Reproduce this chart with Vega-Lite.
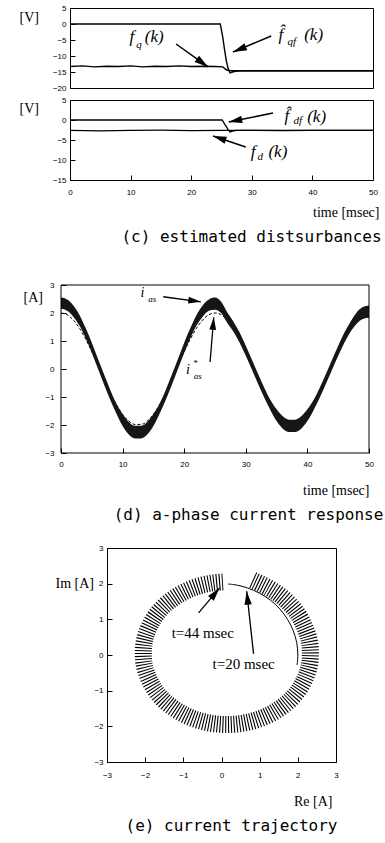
{
"$schema": "https://vega.github.io/schema/vega-lite/v6.json",
"background": "white",
"padding": {"left": 18, "top": 3, "right": 0, "bottom": 0},
"bounds": "flush",
"center": true,
"spacing": 12,
"config": {
  "view": {"stroke": "black", "strokeWidth": 1},
  "axis": {"grid": false, "domain": false, "tickColor": "black", "tickSize": -5, "tickWidth": 1, "labelFont": "Liberation Sans", "labelFontSize": 8, "labelColor": "black", "labelPadding": 9, "labelFlush": false, "titleFont": "Liberation Serif", "titleFontSize": 14, "titleFontWeight": "normal", "titleColor": "black", "titleAngle": 0, "titleBaseline": "middle"},
  "title": {"font": "DejaVu Sans Mono", "fontSize": 16, "fontWeight": "normal", "color": "black", "orient": "bottom", "frame": "group", "anchor": "middle", "offset": 10}
},
"vconcat": [
{
  "width": 303, "height": 80,
  "encoding": {
    "x": {"field": "x", "type": "quantitative", "scale": {"domain": [0, 50], "nice": false}, "axis": null},
    "y": {"field": "y", "type": "quantitative", "scale": {"domain": [-20, 5], "nice": false}, "axis": {"values": [-20, -15, -10, -5, 0, 5], "title": "[V]", "titleAlign": "left", "titleX": -51, "titleY": 9}}
  },
  "layer": [
    {"data": {"values": [
      {"s": "fq", "x": 0, "y": -13.3}, {"s": "fq", "x": 2, "y": -13.1}, {"s": "fq", "x": 4, "y": -13.4}, {"s": "fq", "x": 6, "y": -13.2}, {"s": "fq", "x": 8, "y": -13.3}, {"s": "fq", "x": 10, "y": -13.1}, {"s": "fq", "x": 12, "y": -13.4}, {"s": "fq", "x": 14, "y": -13.2}, {"s": "fq", "x": 16, "y": -13.3}, {"s": "fq", "x": 18, "y": -13.1}, {"s": "fq", "x": 20, "y": -13.3}, {"s": "fq", "x": 22, "y": -13.2}, {"s": "fq", "x": 24, "y": -13.3}, {"s": "fq", "x": 25.2, "y": -13.4}, {"s": "fq", "x": 25.8, "y": -14.3}, {"s": "fq", "x": 26.4, "y": -14.6}, {"s": "fq", "x": 35, "y": -14.6}, {"s": "fq", "x": 50, "y": -14.6},
      {"s": "fqf", "x": 0, "y": 0}, {"s": "fqf", "x": 24.8, "y": 0}, {"s": "fqf", "x": 25.2, "y": -4}, {"s": "fqf", "x": 25.5, "y": -8}, {"s": "fqf", "x": 25.8, "y": -11.5}, {"s": "fqf", "x": 26.1, "y": -14}, {"s": "fqf", "x": 26.4, "y": -15.3}, {"s": "fqf", "x": 26.8, "y": -15.0}, {"s": "fqf", "x": 27.5, "y": -14.7}, {"s": "fqf", "x": 28.5, "y": -14.6}, {"s": "fqf", "x": 50, "y": -14.6}
    ]},
     "mark": {"type": "line", "color": "black", "strokeWidth": 1.4},
     "encoding": {"detail": {"field": "s", "type": "nominal"}}},
    {"data": {"values": [{"x": 17.5, "y": -6.25, "x2": 22.8, "y2": -13.4}, {"x": 33.2, "y": -3.75, "x2": 26.9, "y2": -8.75}]},
     "mark": {"type": "rule", "color": "black", "strokeWidth": 1.5},
     "encoding": {"x2": {"field": "x2"}, "y2": {"field": "y2"}}},
    {"data": {"values": [{"x": 22.8, "y": -13.4}]},
     "mark": {"type": "point", "shape": "M0,0L0.6,2.2L-0.6,2.2Z", "filled": true, "color": "black", "opacity": 1, "size": 160, "angle": 125.5}},
    {"data": {"values": [{"x": 26.9, "y": -8.75}]},
     "mark": {"type": "point", "shape": "M0,0L0.6,2.2L-0.6,2.2Z", "filled": true, "color": "black", "opacity": 1, "size": 160, "angle": -112.7}},
    {"data": {"values": [{"x": 10.2, "y": -4.1, "t": "f"}, {"x": 13.9, "y": -4.1, "t": "(k)"}, {"x": 34.8, "y": -3.4, "t": "f\u0302"}, {"x": 40.2, "y": -3.4, "t": "(k)"}]},
     "mark": {"type": "text", "font": "Liberation Serif", "fontStyle": "italic", "fontSize": 17, "baseline": "middle", "color": "black"},
     "encoding": {"text": {"field": "t"}}},
    {"data": {"values": [{"x": 11.4, "y": -6.6, "t": "q"}, {"x": 36.6, "y": -5.6, "t": "qf"}]},
     "mark": {"type": "text", "font": "Liberation Serif", "fontStyle": "italic", "fontSize": 11, "baseline": "middle", "color": "black"},
     "encoding": {"text": {"field": "t"}}}
  ]
},
{
  "width": 303, "height": 80,
  "title": {"text": "(c) estimated distsurbances", "dx": 30},
  "encoding": {
    "x": {"field": "x", "type": "quantitative", "scale": {"domain": [0, 50], "nice": false}, "axis": {"values": [0, 10, 20, 30, 40, 50], "labelPadding": 13, "title": "time [msec]", "titleAlign": "right", "titleX": 309, "titleY": 32}},
    "y": {"field": "y", "type": "quantitative", "scale": {"domain": [-15, 5], "nice": false}, "axis": {"values": [-15, -10, -5, 0, 5], "title": "[V]", "titleAlign": "left", "titleX": -51, "titleY": 8}}
  },
  "layer": [
    {"data": {"values": [
      {"s": "fdf", "x": 0, "y": 0}, {"s": "fdf", "x": 25.1, "y": 0}, {"s": "fdf", "x": 25.6, "y": -1.2}, {"s": "fdf", "x": 26.1, "y": -2.4}, {"s": "fdf", "x": 26.4, "y": -3.0}, {"s": "fdf", "x": 26.8, "y": -2.8}, {"s": "fdf", "x": 27.5, "y": -2.6}, {"s": "fdf", "x": 50, "y": -2.6},
      {"s": "fd", "x": 0, "y": -2.6}, {"s": "fd", "x": 5, "y": -2.7}, {"s": "fd", "x": 10, "y": -2.6}, {"s": "fd", "x": 15, "y": -2.55}, {"s": "fd", "x": 20, "y": -2.65}, {"s": "fd", "x": 25, "y": -2.6}, {"s": "fd", "x": 30, "y": -2.6}, {"s": "fd", "x": 35, "y": -2.65}, {"s": "fd", "x": 40, "y": -2.6}, {"s": "fd", "x": 45, "y": -2.6}, {"s": "fd", "x": 50, "y": -2.6}
    ]},
     "mark": {"type": "line", "color": "black", "strokeWidth": 1.3},
     "encoding": {"detail": {"field": "s", "type": "nominal"}}},
    {"data": {"values": [{"x": 33.5, "y": 1.75, "x2": 26.2, "y2": -0.5}, {"x": 29.0, "y": -6.75, "x2": 23.6, "y2": -4.0}]},
     "mark": {"type": "rule", "color": "black", "strokeWidth": 1.5},
     "encoding": {"x2": {"field": "x2"}, "y2": {"field": "y2"}}},
    {"data": {"values": [{"x": 26.2, "y": -0.5}]},
     "mark": {"type": "point", "shape": "M0,0L0.6,2.2L-0.6,2.2Z", "filled": true, "color": "black", "opacity": 1, "size": 150, "angle": -101.5}},
    {"data": {"values": [{"x": 23.6, "y": -4.0}]},
     "mark": {"type": "point", "shape": "M0,0L0.6,2.2L-0.6,2.2Z", "filled": true, "color": "black", "opacity": 1, "size": 150, "angle": -71.4}},
    {"data": {"values": [{"x": 35.8, "y": 0.9, "t": "f\u0302"}, {"x": 40.7, "y": 0.75, "t": "(k)"}, {"x": 30.2, "y": -8.0, "t": "f"}, {"x": 34.3, "y": -8.0, "t": "(k)"}]},
     "mark": {"type": "text", "font": "Liberation Serif", "fontStyle": "italic", "fontSize": 17, "baseline": "middle", "color": "black"},
     "encoding": {"text": {"field": "t"}}},
    {"data": {"values": [{"x": 37.6, "y": -0.3, "t": "df"}, {"x": 31.4, "y": -9.2, "t": "d"}]},
     "mark": {"type": "text", "font": "Liberation Serif", "fontStyle": "italic", "fontSize": 11, "baseline": "middle", "color": "black"},
     "encoding": {"text": {"field": "t"}}}
  ]
},
{
  "width": 20, "height": 81, "view": {"stroke": null},
  "data": {"values": [{}]},
  "mark": {"type": "point", "opacity": 0}
},
{
  "width": 321, "height": 168, "view": {"stroke": null},
  "title": {"text": "(d) a-phase current response", "dx": 27},
  "encoding": {
    "x": {"field": "x", "type": "quantitative", "scale": {"domain": [0, 52.11], "nice": false}, "axis": {"values": [0, 10, 20, 30, 40, 50], "labelPadding": 12, "title": "time [msec]", "titleAlign": "right", "titleX": 308, "titleY": 37}},
    "y": {"field": "y", "type": "quantitative", "scale": {"domain": [-3, 3], "nice": false}, "axis": {"values": [-3, -2, -1, 0, 1, 2, 3], "title": "[A]", "titleAlign": "left", "titleX": -38, "titleY": 12, "labelPadding": 12}}
  },
  "layer": [
    {"data": {"values": [
      {"x": 0, "y": 2.00}, {"x": 1, "y": 1.94}, {"x": 2, "y": 1.75}, {"x": 3, "y": 1.46}, {"x": 4, "y": 1.07}, {"x": 5, "y": 0.62}, {"x": 6, "y": 0.13}, {"x": 7, "y": -0.37}, {"x": 8, "y": -0.85}, {"x": 9, "y": -1.27}, {"x": 10, "y": -1.62}, {"x": 11, "y": -1.86}, {"x": 12, "y": -1.98}, {"x": 13, "y": -1.98}, {"x": 14, "y": -1.86}, {"x": 15, "y": -1.62}, {"x": 16, "y": -1.27}, {"x": 17, "y": -0.85}, {"x": 18, "y": -0.37}, {"x": 19, "y": 0.13}, {"x": 20, "y": 0.62}, {"x": 21, "y": 1.07}, {"x": 22, "y": 1.46}, {"x": 23, "y": 1.75}, {"x": 24, "y": 1.94}, {"x": 25, "y": 2.00},
      {"x": 26, "y": 1.94}, {"x": 27, "y": 1.75}, {"x": 28, "y": 1.46}, {"x": 29, "y": 1.07}, {"x": 30, "y": 0.62}, {"x": 31, "y": 0.13}, {"x": 32, "y": -0.37}, {"x": 33, "y": -0.85}, {"x": 34, "y": -1.27}, {"x": 35, "y": -1.62}, {"x": 36, "y": -1.86}, {"x": 37, "y": -1.98}, {"x": 38, "y": -1.98}, {"x": 39, "y": -1.86}, {"x": 40, "y": -1.62}, {"x": 41, "y": -1.27}, {"x": 42, "y": -0.85}, {"x": 43, "y": -0.37}, {"x": 44, "y": 0.13}, {"x": 45, "y": 0.62}, {"x": 46, "y": 1.07}, {"x": 47, "y": 1.46}, {"x": 48, "y": 1.75}, {"x": 49, "y": 1.94}, {"x": 50, "y": 2.00}
    ]},
     "mark": {"type": "line", "color": "black", "strokeWidth": 1, "strokeDash": [3, 2], "interpolate": "monotone"}},
    {"data": {"values": [
      {"x": 0, "y": 2.55, "y2": 2.15}, {"x": 1, "y": 2.48, "y2": 2.08}, {"x": 2, "y": 2.27, "y2": 1.87}, {"x": 3, "y": 1.93, "y2": 1.55}, {"x": 4, "y": 1.46, "y2": 1.10}, {"x": 5, "y": 0.94, "y2": 0.58}, {"x": 6, "y": 0.37, "y2": 0.01}, {"x": 7, "y": -0.20, "y2": -0.56}, {"x": 8, "y": -0.75, "y2": -1.11}, {"x": 9, "y": -1.24, "y2": -1.60}, {"x": 10, "y": -1.61, "y2": -2.04}, {"x": 11, "y": -1.89, "y2": -2.34}, {"x": 12, "y": -2.03, "y2": -2.48}, {"x": 13, "y": -2.03, "y2": -2.48}, {"x": 14, "y": -1.89, "y2": -2.34}, {"x": 15, "y": -1.61, "y2": -2.04}, {"x": 16, "y": -1.24, "y2": -1.60}, {"x": 17, "y": -0.75, "y2": -1.11}, {"x": 18, "y": -0.20, "y2": -0.56}, {"x": 19, "y": 0.37, "y2": 0.01}, {"x": 20, "y": 0.94, "y2": 0.58}, {"x": 21, "y": 1.46, "y2": 1.10}, {"x": 22, "y": 1.93, "y2": 1.55}, {"x": 23, "y": 2.27, "y2": 1.87}, {"x": 24, "y": 2.48, "y2": 2.08}, {"x": 25, "y": 2.55, "y2": 2.12},
      {"x": 26, "y": 2.40, "y2": 2.00}, {"x": 27, "y": 2.02, "y2": 1.64}, {"x": 28, "y": 1.69, "y2": 1.33}, {"x": 29, "y": 1.30, "y2": 0.94}, {"x": 30, "y": 0.83, "y2": 0.47}, {"x": 31, "y": 0.33, "y2": -0.03}, {"x": 32, "y": -0.18, "y2": -0.54}, {"x": 33, "y": -0.67, "y2": -1.03}, {"x": 34, "y": -1.11, "y2": -1.47}, {"x": 35, "y": -1.44, "y2": -1.86}, {"x": 36, "y": -1.69, "y2": -2.13}, {"x": 37, "y": -1.81, "y2": -2.25}, {"x": 38, "y": -1.81, "y2": -2.25}, {"x": 39, "y": -1.69, "y2": -2.13}, {"x": 40, "y": -1.44, "y2": -1.86}, {"x": 41, "y": -1.11, "y2": -1.47}, {"x": 42, "y": -0.67, "y2": -1.03}, {"x": 43, "y": -0.18, "y2": -0.54}, {"x": 44, "y": 0.33, "y2": -0.03}, {"x": 45, "y": 0.83, "y2": 0.47}, {"x": 46, "y": 1.30, "y2": 0.94}, {"x": 47, "y": 1.69, "y2": 1.33}, {"x": 48, "y": 2.02, "y2": 1.62}, {"x": 49, "y": 2.21, "y2": 1.79}, {"x": 50, "y": 2.27, "y2": 1.83}
    ]},
     "mark": {"type": "area", "color": "#161616", "opacity": 1, "interpolate": "monotone"},
     "encoding": {"y2": {"field": "y2"}}},
    {"data": {"values": [{"x": 0, "y": 3, "x2": 50, "y2": 3}, {"x": 0, "y": -3, "x2": 50, "y2": -3}, {"x": 0, "y": -3, "x2": 0, "y2": 3}, {"x": 50, "y": -3, "x2": 50, "y2": 3}]},
     "mark": {"type": "rule", "color": "black", "strokeWidth": 1},
     "encoding": {"x2": {"field": "x2"}, "y2": {"field": "y2"}}},
    {"data": {"values": [{"x": 16.6, "y": 2.58, "x2": 22.7, "y2": 2.4}, {"x": 24.2, "y": 0.25, "x2": 24.8, "y2": 1.85}]},
     "mark": {"type": "rule", "color": "black", "strokeWidth": 1.3},
     "encoding": {"x2": {"field": "x2"}, "y2": {"field": "y2"}}},
    {"data": {"values": [{"x": 22.7, "y": 2.4}]},
     "mark": {"type": "point", "shape": "M0,0L0.6,2.2L-0.6,2.2Z", "filled": true, "color": "black", "opacity": 1, "size": 130, "angle": 97.6}},
    {"data": {"values": [{"x": 24.8, "y": 1.85}]},
     "mark": {"type": "point", "shape": "M0,0L0.6,2.2L-0.6,2.2Z", "filled": true, "color": "black", "opacity": 1, "size": 130, "angle": 4.7}},
    {"data": {"values": [{"x": 13.2, "y": 2.72, "t": "i"}, {"x": 20.6, "y": -0.05, "t": "i"}]},
     "mark": {"type": "text", "font": "Liberation Serif", "fontStyle": "italic", "fontSize": 14, "baseline": "middle", "color": "black"},
     "encoding": {"text": {"field": "t"}}},
    {"data": {"values": [{"x": 14.8, "y": 2.5, "t": "as"}, {"x": 22.2, "y": -0.25, "t": "as"}, {"x": 21.8, "y": 0.2, "t": "*"}]},
     "mark": {"type": "text", "font": "Liberation Serif", "fontStyle": "italic", "fontSize": 9, "baseline": "middle", "color": "black"},
     "encoding": {"text": {"field": "t"}}}
  ]
},
{
  "width": 20, "height": 71, "view": {"stroke": null},
  "data": {"values": [{}]},
  "mark": {"type": "point", "opacity": 0}
},
{
  "width": 229, "height": 214,
  "title": {"text": "(e) current trajectory", "dx": 10},
  "encoding": {
    "x": {"field": "x", "type": "quantitative", "scale": {"domain": [-3, 3], "nice": false}, "axis": {"values": [-3, -2, -1, 0, 1, 2, 3], "labelPadding": 14, "title": "Re [A]", "titleAlign": "right", "titleX": 225, "titleY": 39}},
    "y": {"field": "y", "type": "quantitative", "scale": {"domain": [-3, 3], "nice": false}, "axis": {"values": [-3, -2, -1, 0, 1, 2, 3], "title": "Im [A]", "titleAlign": "left", "titleX": -52, "titleY": 35}}
  },
  "layer": [
    {"data": {"values": [
      {"i": 1, "x": 0.82, "y": 2.10}, {"i": 2, "x": 1.24, "y": 1.88}, {"i": 3, "x": 1.55, "y": 1.66}, {"i": 4, "x": 1.82, "y": 1.39}, {"i": 5, "x": 2.04, "y": 1.08}, {"i": 6, "x": 2.20, "y": 0.73}, {"i": 7, "x": 2.30, "y": 0.40}, {"i": 8, "x": 2.33, "y": 0.05}, {"i": 9, "x": 2.30, "y": -0.30}, {"i": 10, "x": 2.20, "y": -0.63}, {"i": 11, "x": 2.04, "y": -0.95}, {"i": 12, "x": 1.82, "y": -1.24}, {"i": 13, "x": 1.55, "y": -1.48}, {"i": 14, "x": 1.24, "y": -1.68}, {"i": 15, "x": 0.89, "y": -1.83}, {"i": 16, "x": 0.52, "y": -1.92}, {"i": 17, "x": 0.14, "y": -1.95}, {"i": 18, "x": -0.24, "y": -1.92}, {"i": 19, "x": -0.61, "y": -1.83}, {"i": 20, "x": -0.96, "y": -1.68}, {"i": 21, "x": -1.27, "y": -1.48}, {"i": 22, "x": -1.54, "y": -1.24}, {"i": 23, "x": -1.76, "y": -0.95}, {"i": 24, "x": -1.92, "y": -0.63}, {"i": 25, "x": -2.02, "y": -0.30}, {"i": 26, "x": -2.05, "y": 0.05}, {"i": 27, "x": -2.02, "y": 0.40}, {"i": 28, "x": -1.92, "y": 0.73}, {"i": 29, "x": -1.76, "y": 1.05}, {"i": 30, "x": -1.54, "y": 1.34}, {"i": 31, "x": -1.27, "y": 1.58}, {"i": 32, "x": -0.96, "y": 1.78}, {"i": 33, "x": -0.61, "y": 1.93}, {"i": 34, "x": -0.24, "y": 2.02}, {"i": 35, "x": 0.07, "y": 2.05}
    ]},
     "mark": {"type": "line", "color": "black", "strokeWidth": 17, "strokeDash": [1.1, 1.7], "strokeCap": "butt", "interpolate": "catmull-rom"},
     "encoding": {"order": {"field": "i", "type": "quantitative"}}},
    {"data": {"values": [
      {"i": 1, "x": 0.17, "y": 1.99}, {"i": 2, "x": 0.35, "y": 1.97}, {"i": 3, "x": 0.68, "y": 1.88}, {"i": 4, "x": 1.00, "y": 1.73}, {"i": 5, "x": 1.29, "y": 1.53}, {"i": 6, "x": 1.53, "y": 1.29}, {"i": 7, "x": 1.73, "y": 1.00}, {"i": 8, "x": 1.88, "y": 0.68}, {"i": 9, "x": 1.97, "y": 0.35}, {"i": 10, "x": 2.00, "y": 0.00}, {"i": 11, "x": 1.98, "y": -0.28}
    ]},
     "mark": {"type": "line", "color": "black", "strokeWidth": 1, "interpolate": "catmull-rom"},
     "encoding": {"order": {"field": "i", "type": "quantitative"}}},
    {"data": {"values": [{"x": -0.6, "y": 1.18, "x2": -0.05, "y2": 1.88}, {"x": 0.84, "y": 0.03, "x2": 0.66, "y2": 1.79}]},
     "mark": {"type": "rule", "color": "black", "strokeWidth": 1.3},
     "encoding": {"x2": {"field": "x2"}, "y2": {"field": "y2"}}},
    {"data": {"values": [{"x": -0.05, "y": 1.88}]},
     "mark": {"type": "point", "shape": "M0,0L0.6,2.2L-0.6,2.2Z", "filled": true, "color": "black", "opacity": 1, "size": 150, "angle": 39.9}},
    {"data": {"values": [{"x": 0.66, "y": 1.79}]},
     "mark": {"type": "point", "shape": "M0,0L0.6,2.2L-0.6,2.2Z", "filled": true, "color": "black", "opacity": 1, "size": 150, "angle": -6.2}},
    {"data": {"values": [{"x": -0.49, "y": 0.62, "t": "t=44 msec"}, {"x": 0.58, "y": -0.25, "t": "t=20 msec"}]},
     "mark": {"type": "text", "font": "Liberation Serif", "fontSize": 15, "baseline": "middle", "color": "black"},
     "encoding": {"text": {"field": "t"}}}
  ]
}
]
}
